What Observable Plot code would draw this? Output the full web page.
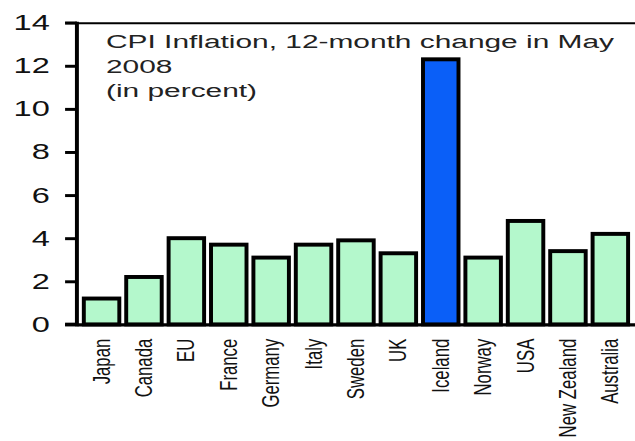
<!DOCTYPE html>
<html>
<head>
<meta charset="utf-8">
<script src="https://cdn.jsdelivr.net/npm/d3@7"></script>
<script src="https://cdn.jsdelivr.net/npm/@observablehq/plot@0.6"></script>
<style>
  html, body { margin: 0; padding: 0; background: #fff; overflow: hidden; }
  #chart { position: relative; width: 635px; height: 441px; overflow: hidden; }
  .title { position: absolute; left: 106px; top: 30px; font-family: "Liberation Sans", Arial, sans-serif;
           font-size: 18px; line-height: 24.5px; color: #222; white-space: nowrap; transform-origin: 0 0; }
</style>
</head>
<body>
<div id="chart"></div>
<script>
const countries = ["Japan", "Canada", "EU", "France", "Germany", "Italy", "Sweden", "UK", "Iceland", "Norway", "USA", "New Zealand", "Australia"];
const inflation = [1.2, 2.2, 4.0, 3.7, 3.1, 3.7, 3.9, 3.3, 12.3, 3.1, 4.8, 3.4, 4.2];
const highlight = ["Iceland"];
const yTicks = [0, 2, 4, 6, 8, 10, 12, 14];
const titleLines = ["CPI Inflation, 12-month change in May", "2008", "(in percent)"];

const data = countries.map((c, i) => ({country: c, value: inflation[i], hi: highlight.includes(c)}));

const plot = Plot.plot({
  width: 644,
  height: 441,
  marginLeft: 78,
  marginRight: 0,
  marginTop: 23,
  marginBottom: 112,
  style: {background: "transparent", overflow: "visible"},
  x: {domain: countries, padding: 0.16, align: 0.5, label: null},
  y: {domain: [0, 14], label: null},
  marks: [
    Plot.barY(data, {x: "country", y: "value", fill: d => d.hi ? "#0a5ff8" : "#b4f8cc", stroke: "#000", strokeWidth: 4}),
    Plot.ruleY([14], {stroke: "#000", strokeWidth: 2}),
    Plot.ruleY([0], {stroke: "#000", strokeWidth: 3.5}),
    Plot.axisY({ticks: yTicks, tickSize: 12, tickWidth: 3, stroke: "#000", strokeWidth: 3, tickPadding: 16,
                fontSize: 22, fill: "#111", label: null, fontFamily: "Liberation Sans, Arial, sans-serif"}),
    Plot.axisX({tickSize: 0, tickRotate: -90, tickPadding: 14, fontSize: 17, fill: "#111", label: null,
                fontFamily: "Liberation Sans, Arial, sans-serif"})
  ]
});
document.getElementById("chart").appendChild(plot);

const svg = d3.select(plot);
const ys = plot.scale("y");
// vertical y-axis spine and extend horizontal rules left to the tick ends
svg.append("line")
  .attr("x1", 78).attr("x2", 78)
  .attr("y1", ys.apply(14) - 1).attr("y2", ys.apply(0) + 2)
  .attr("stroke", "#000").attr("stroke-width", 4);
svg.append("line").attr("x1", 66).attr("x2", 78).attr("y1", ys.apply(14)).attr("y2", ys.apply(14))
  .attr("stroke", "#000").attr("stroke-width", 2);
svg.append("line").attr("x1", 66).attr("x2", 78).attr("y1", ys.apply(0)).attr("y2", ys.apply(0))
  .attr("stroke", "#000").attr("stroke-width", 3.5);

// horizontally stretched lettering, as in the reference
const stretch = 1.5;
svg.selectAll("[aria-label='y-axis tick label'] text").each(function() {
  const w = this.getComputedTextLength();
  this.setAttribute("textLength", w * stretch);
  this.setAttribute("lengthAdjust", "spacingAndGlyphs");
});
svg.selectAll("[aria-label='x-axis tick label'] text").each(function() {
  const tr = this.getAttribute("transform") || "";
  this.setAttribute("transform", tr + " scale(1,1.4)");
});

const t = document.createElement("div");
t.className = "title";
t.innerHTML = titleLines.join("<br>");
document.getElementById("chart").appendChild(t);
const w0 = t.getBoundingClientRect().width;
t.style.transform = `scaleX(${508 / w0})`;
</script>
</body>
</html>
